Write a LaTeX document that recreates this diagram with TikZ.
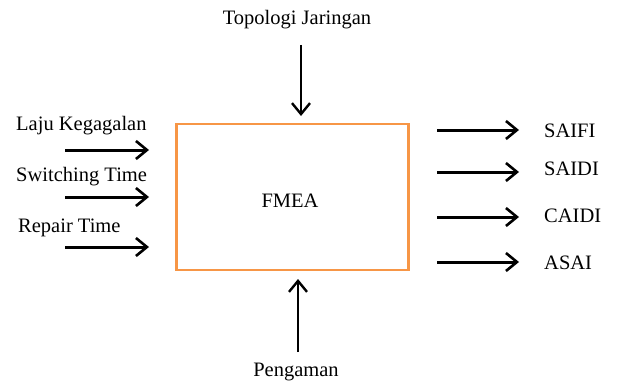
\documentclass[tikz,border=0pt]{standalone}
\usepackage{fontspec}
\setmainfont{Liberation Serif}
\usetikzlibrary{arrows.meta}
\definecolor{boxorange}{HTML}{F79646}
\begin{document}
\begin{tikzpicture}[x=1pt,y=-1pt,
  lbl/.style={font=\fontsize{20.5}{23}\selectfont, inner sep=0pt},
  arr/.style={line width=3pt, -{Straight Barb[length=11pt,width=18pt,line width=2.6pt]}},
  varr/.style={line width=2.4pt, -{Straight Barb[length=11pt,width=18pt,line width=2.4pt]}}]
\useasboundingbox (0,0) rectangle (617,385);
\node[draw=boxorange, line width=2.5pt, minimum width=232pt, minimum height=146pt, inner sep=0pt] (box) at (292.5,197) {};
\node[lbl] (fmea) at (290,201) {FMEA};
% top
\node[lbl] (topo) at (297,20) {Topologi Jaringan};
\coordinate (ts) at (301,45);
\coordinate (te) at (301,116);
\draw[varr] (ts) -- (te);
% bottom
\node[lbl] (peng) at (296,372) {Pengaman};
\coordinate (bs) at (298,352);
\coordinate (be) at (298,279);
\draw[varr] (bs) -- (be);
% left
\node[lbl, anchor=west] (laju) at (16,126) {Laju Kegagalan};
\node[lbl, anchor=west] (sw) at (16,177) {Switching Time};
\node[lbl, anchor=west] (rep) at (18,228) {Repair Time};
\coordinate (l1) at (65,150); \coordinate (l1e) at (149,150);
\coordinate (l2) at (65,197); \coordinate (l2e) at (149,197);
\coordinate (l3) at (65,247); \coordinate (l3e) at (149,247);
\draw[arr] (l1) -- (l1e);
\draw[arr] (l2) -- (l2e);
\draw[arr] (l3) -- (l3e);
% right
\node[lbl, anchor=west] (saifi) at (544,131) {SAIFI};
\node[lbl, anchor=west] (saidi) at (544,169) {SAIDI};
\node[lbl, anchor=west] (caidi) at (544,216) {CAIDI};
\node[lbl, anchor=west] (asai) at (544,263) {ASAI};
\coordinate (r1) at (437,130); \coordinate (r1e) at (519,130);
\coordinate (r2) at (437,172); \coordinate (r2e) at (519,172);
\coordinate (r3) at (437,217); \coordinate (r3e) at (519,217);
\coordinate (r4) at (437,262); \coordinate (r4e) at (519,262);
\draw[arr] (r1) -- (r1e);
\draw[arr] (r2) -- (r2e);
\draw[arr] (r3) -- (r3e);
\draw[arr] (r4) -- (r4e);
\end{tikzpicture}
\end{document}
